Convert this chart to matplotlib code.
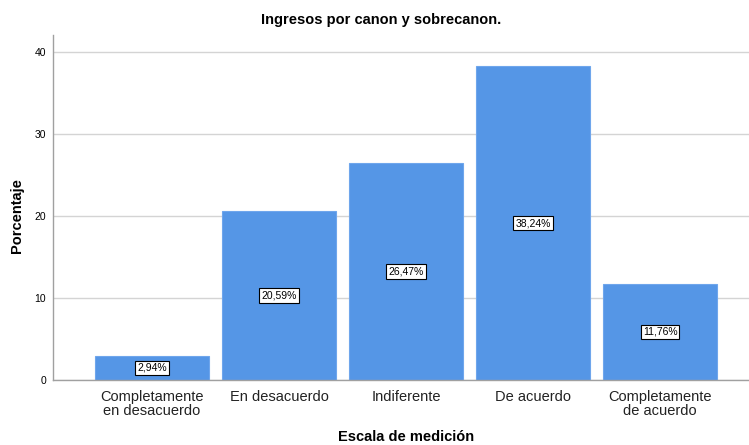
import matplotlib.pyplot as plt

plt.rcParams["font.family"] = ["Liberation Sans", "DejaVu Sans"]

# Categories and percentages
categorias = ["Completamente\nen desacuerdo", "En desacuerdo", "Indiferente",
              "De acuerdo", "Completamente\nde acuerdo"]
porcentajes = [2.94, 20.59, 26.47, 38.24, 11.76]
etiquetas = ["2,94%", "20,59%", "26,47%", "38,24%", "11,76%"]
y_ticks = [0, 10, 20, 30, 40]

fig = plt.figure(figsize=(7.49, 4.45), dpi=100)
ax = fig.add_axes([53 / 749, 65 / 445, 696 / 749, 345 / 445])

x = list(range(len(categorias)))
ax.bar(x, porcentajes, width=0.9, color="#5596E6", edgecolor="#6FA6EC",
       linewidth=0.8, zorder=2)

# percentage labels in the middle of each bar
for xi, val, txt in zip(x, porcentajes, etiquetas):
    ax.text(xi, val / 2, txt, ha="center", va="center", fontsize=7.5, zorder=3,
            bbox=dict(boxstyle="square,pad=0.2", facecolor="white",
                      edgecolor="black", linewidth=0.8))

ax.set_xlim(-0.78, 4.70)
ax.set_ylim(0, 42.07)
ax.set_yticks(y_ticks)
ax.set_yticklabels([str(t) for t in y_ticks], fontsize=7.5)
ax.set_xticks(x)
ax.set_xticklabels(categorias, fontsize=10.5, color="#222222", linespacing=1.05)
ax.tick_params(axis="x", length=0, pad=7)
ax.tick_params(axis="y", length=0, pad=5)

ax.grid(True, axis="y", color="#D4D4D4", linewidth=1, zorder=0)
for side in ["top", "right"]:
    ax.spines[side].set_visible(False)
for side in ["left", "bottom"]:
    ax.spines[side].set_color("#A0A0A0")
    ax.spines[side].set_linewidth(1)

fig.text(406 / 749, 1 - 437 / 445, "Escala de medición", ha="center", va="center",
         fontsize=10.5, fontweight="bold")
fig.text(17 / 749, 1 - 216 / 445, "Porcentaje", ha="center", va="center",
         rotation=90, fontsize=10.5, fontweight="bold")
fig.text(381 / 749, 1 - 20 / 445, "Ingresos por canon y sobrecanon.",
         ha="center", va="center", fontsize=10.5, fontweight="bold")

plt.savefig("out.png", dpi=100)
